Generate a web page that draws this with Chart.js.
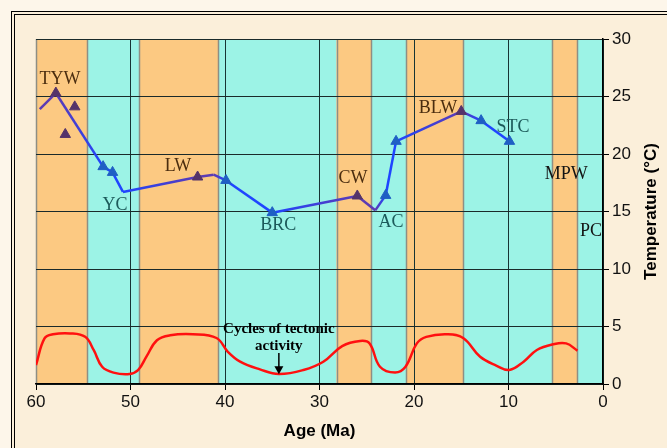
<!DOCTYPE html>
<html>
<head>
<meta charset="utf-8">
<script src="https://cdn.jsdelivr.net/npm/chart.js@4"></script>
<style>
  html, body { margin: 0; padding: 0; background: #fbefda; }
  #wrap { position: relative; width: 667px; height: 448px; }
</style>
</head>
<body>
<div id="wrap"><canvas id="climate"></canvas></div>
<script>
// Background bands (age in Ma, older edge -> younger edge)
const BAND_FROM = [60, 54.6, 49.1, 40.7, 28.2, 24.5, 20.8, 14.8, 5.4, 2.7];
const BAND_TO   = [54.6, 49.1, 40.7, 28.2, 24.5, 20.8, 14.8, 5.4, 2.7, 0];
const BAND_KIND = ['warm', 'cool', 'warm', 'cool', 'warm', 'cool', 'warm', 'cool', 'warm', 'cool'];

// Temperature curve (blue/purple line)
const TEMP_AGES = [59.6, 57.9, 52.9, 51.9, 50.8, 42.9, 41.2, 39.9, 35.0, 26.0, 24.1, 23.0, 21.9, 15.0, 12.9, 9.9];
const TEMP_VALS = [23.9, 25.3, 18.9, 18.4, 16.7, 18.0, 18.2, 17.7, 14.9, 16.35, 15.1, 16.4, 21.1, 23.7, 22.9, 21.1];
const TEMP_MARK = ['none', 'warm', 'cool', 'cool', 'none', 'warm', 'none', 'cool', 'cool', 'warm', 'none', 'cool', 'cool', 'warm', 'cool', 'cool'];
const TEMP_TONE = ['warm', 'warm', 'cool', 'cool', 'cool', 'warm', 'warm', 'cool', 'cool', 'warm', 'warm', 'cool', 'cool', 'warm', 'cool', 'cool'];

// Loose triangles off the line
const EXTRA_AGES = [55.9, 56.9];
const EXTRA_VALS = [24.1, 21.7];

// Tectonic activity cycles (red curve)
const TECT_AGES = [60, 59.1, 58.2, 56.4, 54.8, 53.9, 53.0, 51.8, 50.1, 49.2, 48.3, 47.2, 45.8, 43.4, 40.9, 39.7, 38.4, 36.3, 34.3, 31.7, 29.6, 27.6, 25.7, 24.7, 23.6, 22.0, 20.9, 19.7, 18.7, 16.5, 14.8, 13.0, 11.3, 9.9, 8.4, 7.0, 5.3, 3.9, 2.7];
const TECT_VALS = [1.65, 3.97, 4.32, 4.4, 4.1, 2.96, 1.5, 0.99, 0.87, 1.2, 2.4, 3.8, 4.23, 4.32, 4.0, 2.8, 1.94, 1.27, 0.87, 1.22, 1.94, 3.3, 3.74, 3.53, 1.5, 1.0, 1.5, 3.53, 4.1, 4.32, 4.0, 2.37, 1.6, 1.22, 1.94, 2.96, 3.45, 3.53, 2.9];

// Period labels
const LABEL_TEXT = ['TYW', 'YC', 'LW', 'BRC', 'CW', 'AC', 'BLW', 'STC', 'MPW', 'PC'];
const LABEL_AGES = [57.46, 51.64, 44.97, 34.36, 26.45, 22.43, 17.46, 9.52, 3.88, 1.27];
const LABEL_VALS = [26.5, 15.57, 18.96, 13.77, 17.88, 14.06, 23.97, 22.29, 18.23, 13.3];
const LABEL_KIND = ['warm', 'cool', 'warm', 'cool', 'warm', 'cool', 'warm', 'cool', 'plain', 'plain'];

// Tectonic note
const NOTE_LINES = ['Cycles of tectonic', 'activity'];
const NOTE_AGE = 34.3;
const NOTE_VALS = [4.78, 3.33];
const ARROW_FROM = 2.7;
const ARROW_TO = 0.85;

const BAND_COLORS = { warm: '#fcc982', cool: '#9cf3e6' };
const MARK_COLORS = { warm: '#55336a', cool: '#1f5fc4' };
const LINE_COLORS = { warm: '#5c3bb4', cool: '#1f45ff' };
const TEXT_COLORS = { warm: '#4b2d0f', cool: '#1c5a5a', plain: '#141414' };

/** Page background, frame and climate bands (under the grid) */
const backdrop = {
  id: 'backdrop',
  beforeDraw(chart) {
    const { ctx, chartArea: a, scales: { x } } = chart;
    ctx.save();
    ctx.fillStyle = '#fdf6ea';
    ctx.fillRect(0, 0, chart.width, chart.height);
    ctx.fillStyle = '#fbefda';
    ctx.fillRect(12, 12, chart.width, chart.height);
    ctx.strokeStyle = '#000';
    ctx.lineWidth = 1;
    ctx.strokeRect(11.5, 11.5, chart.width + 10, chart.height + 10);
    ctx.strokeRect(14.5, 14.5, chart.width + 10, chart.height + 10);

    BAND_FROM.forEach((from, i) => {
      const x0 = x.getPixelForValue(from);
      const x1 = x.getPixelForValue(BAND_TO[i]);
      ctx.fillStyle = BAND_COLORS[BAND_KIND[i]];
      ctx.fillRect(x0, a.top, x1 - x0, a.bottom - a.top);
    });
    // band edges
    ctx.strokeStyle = '#8e8e84';
    ctx.lineWidth = 1.5;
    BAND_FROM.forEach(from => {
      const px = Math.round(x.getPixelForValue(from)) + 0.5;
      ctx.beginPath();
      ctx.moveTo(px, a.top);
      ctx.lineTo(px, a.bottom);
      ctx.stroke();
    });
    ctx.restore();
  }
};

/** Period labels, tectonic note and the y-axis title */
const annotations = {
  id: 'annotations',
  afterDatasetsDraw(chart) {
    const { ctx, scales: { x, y } } = chart;
    ctx.save();
    ctx.textAlign = 'center';
    ctx.textBaseline = 'middle';
    ctx.font = '18px "Liberation Serif", "Times New Roman", serif';
    LABEL_TEXT.forEach((t, i) => {
      ctx.fillStyle = TEXT_COLORS[LABEL_KIND[i]];
      ctx.fillText(t, x.getPixelForValue(LABEL_AGES[i]), y.getPixelForValue(LABEL_VALS[i]));
    });

    ctx.fillStyle = '#000';
    ctx.font = 'bold 15px "Liberation Serif", "Times New Roman", serif';
    const nx = x.getPixelForValue(NOTE_AGE);
    NOTE_LINES.forEach((t, i) => ctx.fillText(t, nx, y.getPixelForValue(NOTE_VALS[i])));

    // arrow
    const ay0 = y.getPixelForValue(ARROW_FROM);
    const ay1 = y.getPixelForValue(ARROW_TO);
    ctx.strokeStyle = '#000';
    ctx.lineWidth = 1.5;
    ctx.beginPath();
    ctx.moveTo(nx, ay0);
    ctx.lineTo(nx, ay1 - 6);
    ctx.stroke();
    ctx.beginPath();
    ctx.moveTo(nx - 4.5, ay1 - 8);
    ctx.lineTo(nx + 4.5, ay1 - 8);
    ctx.lineTo(nx, ay1);
    ctx.closePath();
    ctx.fill();
    ctx.restore();
  },
  afterDraw(chart) {
    const { ctx, chartArea: a } = chart;
    ctx.save();
    ctx.translate(651, (a.top + a.bottom) / 2);
    ctx.rotate(-Math.PI / 2);
    ctx.textAlign = 'center';
    ctx.textBaseline = 'middle';
    ctx.fillStyle = '#000';
    ctx.font = 'bold 17px "Liberation Sans", Arial, sans-serif';
    ctx.fillText('Temperature (\u00B0C)', 0, 0);
    ctx.restore();
  }
};

function toPoints(xs, ys) {
  return xs.map((v, i) => ({ x: v, y: ys[i] }));
}

/** Segment stroke blends from one point's tone to the next */
function segmentColor(ctx) {
  const c0 = LINE_COLORS[TEMP_TONE[ctx.p0DataIndex]];
  const c1 = LINE_COLORS[TEMP_TONE[ctx.p1DataIndex]];
  if (c0 === c1 || !Number.isFinite(ctx.p0.x) || !Number.isFinite(ctx.p1.x)) return c0;
  const g = ctx.chart.ctx.createLinearGradient(ctx.p0.x, ctx.p0.y, ctx.p1.x, ctx.p1.y);
  g.addColorStop(0, c0);
  g.addColorStop(1, c1);
  return g;
}

const tickFont = { family: '"Liberation Sans", Arial, sans-serif', size: 17 };

new Chart(document.getElementById('climate'), {
  type: 'line',
  data: {
    datasets: [
      {
        label: 'Tectonic activity',
        data: toPoints(TECT_AGES, TECT_VALS),
        borderColor: '#ff1010',
        borderWidth: 2.5,
        pointRadius: 0,
        tension: 0.4,
        fill: false
      },
      {
        label: 'Temperature',
        data: toPoints(TEMP_AGES, TEMP_VALS),
        borderColor: LINE_COLORS.cool,
        borderWidth: 2.5,
        tension: 0,
        segment: { borderColor: segmentColor },
        pointStyle: 'triangle',
        pointRadius: TEMP_MARK.map(m => (m === 'none' ? 0 : 6)),
        pointBackgroundColor: TEMP_MARK.map(m => MARK_COLORS[m === 'warm' ? 'warm' : 'cool']),
        pointBorderColor: TEMP_MARK.map(m => MARK_COLORS[m === 'warm' ? 'warm' : 'cool']),
        pointBorderWidth: 1,
        fill: false
      },
      {
        label: 'Other',
        data: toPoints(EXTRA_AGES, EXTRA_VALS),
        showLine: false,
        pointStyle: 'triangle',
        pointRadius: 6,
        pointBackgroundColor: MARK_COLORS.warm,
        pointBorderColor: MARK_COLORS.warm,
        pointBorderWidth: 1
      }
    ]
  },
  options: {
    responsive: true,
    maintainAspectRatio: false,
    devicePixelRatio: 1,
    animation: false,
    layout: { padding: { left: 36, top: 39, right: 0, bottom: 0 } },
    plugins: {
      legend: { display: false },
      tooltip: { enabled: false }
    },
    scales: {
      x: {
        type: 'linear',
        reverse: true,
        min: 0,
        max: 60,
        ticks: { stepSize: 10, color: '#111', font: tickFont, padding: 2, maxRotation: 0 },
        grid: {
          color: c => (c.tick && c.tick.value === 60 ? '#8e8e84' : '#173434'),
          lineWidth: 1,
          tickLength: 6,
          tickColor: '#000'
        },
        border: { color: '#000', width: 1.5 },
        title: {
          display: true,
          text: 'Age (Ma)',
          color: '#000',
          font: { family: '"Liberation Sans", Arial, sans-serif', size: 17, weight: 'bold' },
          padding: { top: 0, bottom: 6 }
        },
        afterFit: s => { s.height = 64; }
      },
      y: {
        position: 'right',
        min: 0,
        max: 30,
        ticks: { stepSize: 5, color: '#111', font: tickFont, padding: 3 },
        grid: { color: '#1a2a2a', lineWidth: 1, tickLength: 6, tickColor: '#000' },
        border: { color: '#000', width: 1.5 },
        afterFit: s => { s.width = 64; }
      }
    }
  },
  plugins: [backdrop, annotations]
});
</script>
</body>
</html>
